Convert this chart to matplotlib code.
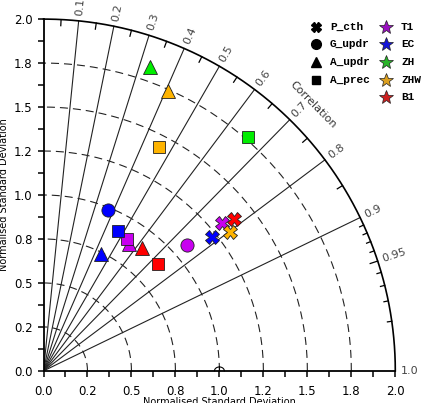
import numpy as np
import matplotlib
matplotlib.use("Agg")
import matplotlib.pyplot as plt

# === Daten ===============================================================
models = ["T1", "EC", "ZH", "ZHW", "B1"]
model_colors = ["#C800F0", "#0000FF", "#00EE00", "#FFB400", "#FF0000"]
legend_colors = ["#9A10C0", "#1414D8", "#28B428", "#DCA020", "#CC2020"]

variables = ["P_cth", "G_updr", "A_updr", "A_prec"]
var_markers = ["X", "o", "^", "s"]
var_sizes = [10, 9.5, 10, 8.2]

nan = np.nan
# normalised std / correlation, order = models
std_pcth = [1.319, 1.224, nan, 1.321, 1.385]
cor_pcth = [0.769, 0.784, nan, 0.802, 0.782]
std_gupdr = [1.084, 0.988, nan, nan, nan]
cor_gupdr = [0.753, 0.372, nan, nan, nan]
std_aupdr = [0.870, 0.741, 1.832, 1.742, 0.895]
cor_aupdr = [0.561, 0.439, 0.330, 0.405, 0.628]
std_aprec = [0.888, 0.900, 1.764, 1.433, 0.891]
cor_aprec = [0.536, 0.469, 0.658, 0.458, 0.729]

std_all = [std_pcth, std_gupdr, std_aupdr, std_aprec]
cor_all = [cor_pcth, cor_gupdr, cor_aupdr, cor_aprec]

std_ticks = np.arange(0, 2.001, 0.25)
std_ticklabels = ["0.0", "0.2", "0.5", "0.8", "1.0", "1.2", "1.5", "1.8", "2.0"]
std_minor = np.arange(0, 2.001, 0.125)
rms_radii = [0.25, 0.5, 0.75, 1.0, 1.25, 1.5, 1.75]

cor_rays = [0.1, 0.2, 0.3, 0.4, 0.5, 0.6, 0.7, 0.8, 0.9]
cor_labels = [0.1, 0.2, 0.3, 0.4, 0.5, 0.6, 0.7, 0.8, 0.9, 0.95, 1.0]
cor_label_txt = ["0.1", "0.2", "0.3", "0.4", "0.5", "0.6", "0.7", "0.8", "0.9", "0.95", "1.0"]
cor_minor = list(np.arange(0.05, 0.9, 0.1)) + [0.91, 0.92, 0.93, 0.94, 0.96, 0.97, 0.98, 0.99]

R = 2.0

# === Layout ==============================================================
plt.rcParams["font.family"] = "DejaVu Sans"
fig = plt.figure(figsize=(4.22, 4.03), dpi=100)
ax = fig.add_axes([43.5/422, 32/403, 351.8/422, 352/403])
ax.set_xlim(0, R)
ax.set_ylim(0, R)
ax.set_aspect("equal")
for side in ["top", "right"]:
    ax.spines[side].set_visible(False)
for side in ["left", "bottom"]:
    ax.spines[side].set_linewidth(1.3)

ax.set_xticks(std_ticks)
ax.set_xticklabels(std_ticklabels)
ax.set_yticks(std_ticks)
ax.set_yticklabels(std_ticklabels)
ax.set_xticks(std_minor, minor=True)
ax.set_yticks(std_minor, minor=True)
ax.tick_params(which="both", direction="out", length=4, width=1.1, labelsize=8.5)
ax.tick_params(axis="x", pad=6)
ax.tick_params(axis="y", pad=4)

# Aussenbogen
th = np.linspace(0, np.pi/2, 400)
ax.plot(R*np.cos(th), R*np.sin(th), color="black", lw=1.2, clip_on=False)

# Std-Kreise (gestrichelt)
for r in rms_radii:
    ax.plot(r*np.cos(th), r*np.sin(th), color="#222222", lw=0.8,
            ls=(0, (7.2, 4.5)), zorder=1)

# Korrelationsstrahlen
for c in cor_rays:
    a = np.arccos(c)
    ax.plot([0, R*np.cos(a)], [0, R*np.sin(a)], color="#222222", lw=0.8, zorder=1)

# Ticks am Bogen
for c in cor_minor:
    a = np.arccos(c)
    L = 0.035 if c < 0.9 else 0.025
    ax.plot([R*np.cos(a), (R-L)*np.cos(a)], [R*np.sin(a), (R-L)*np.sin(a)],
            color="black", lw=0.9)
a95 = np.arccos(0.95)
ax.plot([R*np.cos(a95), (R-0.045)*np.cos(a95)], [R*np.sin(a95), (R-0.045)*np.sin(a95)],
        color="black", lw=0.9)

for c, t in zip(cor_labels, cor_label_txt):
    a = np.arccos(c)
    rr = 2.03
    ax.text(rr*np.cos(a), rr*np.sin(a), t, rotation=np.degrees(a),
            rotation_mode="anchor", ha="left", va="center", fontsize=8,
            color="#444444", clip_on=False)

ax.text(2.152*np.cos(np.radians(44.6)), 2.152*np.sin(np.radians(44.6)), "Correlation",
        rotation=-45.4, rotation_mode="anchor", ha="center", va="center",
        fontsize=8, color="#333333", clip_on=False)

# Referenzpunkt
ta = np.linspace(0, np.pi, 50)
ax.plot(1 + 0.028*np.cos(ta), 0.028*np.sin(ta) * 0.8, color="black", lw=0.8, clip_on=False, zorder=3)
ax.plot([1, 1], [0, 0.03], color="black", lw=0.8, clip_on=False, zorder=3)

# Achsentitel
ax.set_ylabel("Normalised Standard Deviation", fontsize=7)
ax.yaxis.set_label_coords(-0.098, 0.5)
fig.text(219/422, 1 - 397/403, "Normalised Standard Deviation", fontsize=7,
         ha="center", va="top")

# Datenpunkte
for vi in range(len(variables)):
    s = np.array(std_all[vi])
    c = np.array(cor_all[vi])
    a = np.arccos(c)
    for mi in range(len(models)):
        if np.isnan(s[mi]):
            continue
        ax.plot(s[mi]*np.cos(a[mi]), s[mi]*np.sin(a[mi]), ls="none",
                marker=var_markers[vi], ms=var_sizes[vi], mfc=model_colors[mi],
                mec="#202020", mew=0.6, zorder=5, clip_on=False)

# === Legende ============================================================
lax = fig.add_axes([0, 0, 1, 1])
lax.set_xlim(0, 422)
lax.set_ylim(403, 0)
lax.axis("off")
row_y = [26.7, 44.0, 61.7, 80.0, 97.3]
for i, (v, m) in enumerate(zip(variables, var_markers)):
    lax.plot(316, row_y[i], marker=m, ms=7 if m != "s" else 6.3, color="black", ls="none")
    lax.text(330, row_y[i], v, fontsize=8, family="Liberation Mono",
             weight="bold", va="center", ha="left")
for i, (mname, col) in enumerate(zip(models, legend_colors)):
    lax.plot(386, row_y[i], marker="*", ms=10, mfc=col, mec="#202020", mew=0.5, ls="none")
    lax.text(401, row_y[i], mname, fontsize=8, family="Liberation Mono",
             weight="bold", va="center", ha="left")

fig.savefig("out.png", dpi=100)
